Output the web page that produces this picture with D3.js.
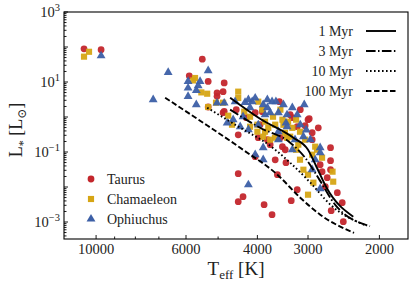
<!DOCTYPE html>
<html>
<head>
<meta charset="utf-8">
<script src="https://d3js.org/d3.v7.min.js"></script>
<style>
body {margin:0; background:#fff;}
text {font-family:"Liberation Serif", "DejaVu Serif", serif; fill:#222;}
</style>
</head>
<body>
<svg width=415 height=289></svg>
<script>
// stars: [Teff (K), L (Lsun)]
var taurus = [[10710,89],[9720,84],[5470,45],[5890,15],[5290,10.4],[4830,9.4],[5030,4.9],[5030,3.9],[5290,1.93],[4830,1.45],[4460,0.31],[4860,5.3],[4860,1.33],[4050,1.33],[3890,1.42],[3980,0.256],[3720,0.162],[3470,0.142],[3780,0.225],[3510,0.256],[3530,2.74],[3320,1.16],[3280,0.955],[3000,0.837],[3190,0.528],[3050,0.564],[2930,0.356],[2930,0.225],[2640,0.133],[2640,0.0564],[2640,0.0312],[2690,0.0185],[2720,0.0102],[2540,0.00687],[2630,0.0021],[2470,0.00356],[2455,0.00102],[3400,0.0494],[3570,0.0225],[3190,0.00837],[3300,0.00406],[3850,0.00312],[3680,0.00162],[4460,0.024],[4340,0.00528],[4460,0.0038],[4050,0.0734],[2800,0.0434],[2770,0.0274],[2980,0.894],[3940,0.603],[4260,0.955],[4510,1.62],[3135,1.62],[2830,0.49],[3415,0.116],[3615,0.06]];
var chamaeleon = [[10410,73],[10710,53],[5700,13],[5760,11.1],[5500,5.05],[5320,4.63],[5290,1.93],[4720,1.09],[4460,5.3],[4460,3.5],[3980,2.74],[5060,2.56],[4860,2.56],[4170,1.02],[4170,0.528],[4000,0.603],[3830,0.734],[3470,0.837],[3360,0.734],[4000,0.38],[3870,0.274],[3620,0.256],[3380,0.256],[3890,1.62],[3660,1.02],[3615,0.603],[3420,0.356],[3320,0.274],[3140,0.38],[2880,0.142],[2850,0.116],[3080,0.0312],[3000,0.0225],[2910,0.0133],[2610,0.0274],[2600,0.0142],[3000,0.00603],[3830,0.38],[3720,0.225],[4310,1.42],[4620,0.603],[3210,0.116],[3140,0.0603],[2770,0.0687],[3510,1.62],[3280,0.49],[3210,0.84],[3050,0.225],[2930,0.0837],[3170,0.162],[3450,0.6],[3760,0.49]];
var ophiuchus = [[9720,56],[6640,18.8],[5290,21],[5930,10.4],[5540,10.4],[5930,6.74],[5600,7.83],[5660,5.76],[5930,3.88],[5660,2.25],[5030,2.51],[4830,2.51],[4750,0.674],[7230,3.12],[4290,2.61],[4210,3.12],[4050,3.49],[3870,2.25],[3830,1.16],[4540,2.74],[4120,2.74],[3780,3.12],[4170,1.84],[3780,1.84],[4340,1.02],[4590,0.837],[4410,0.528],[4210,0.434],[3870,0.133],[4050,0.0837],[3870,0.0603],[3550,0.38],[3680,2.74],[3600,2.74],[3065,2.25],[3720,1.33],[3550,1.33],[3380,1.16],[3190,1.16],[3400,0.674],[3380,0.528],[3080,0.274],[2960,0.225],[2800,0.133],[2800,0.0955],[3550,0.225],[2930,0.0312],[2800,0.00894],[4210,0.0116],[3230,0.225],[3450,2.25],[3280,1.84],[3135,0.6],[3030,0.43],[2880,0.06],[3280,0.116],[3980,0.6]];

// isochrones
var isoAges = ["1 Myr", "3 Myr", "10 Myr", "100 Myr"];
var iso1 = [[4670,3.56],[3940,0.894],[3260,0.256],[3000,0.116],[2860,0.038],[2700,0.0095],[2320,0.00142]];
var iso3 = [[4670,1.62],[3940,0.494],[3320,0.185],[3050,0.0687],[2810,0.016],[2570,0.0031],[2110,0.00076]];
var iso10 = [[5320,1.84],[4410,0.494],[3720,0.151],[3320,0.0494],[2960,0.0133],[2640,0.0031],[2150,0.00078]];
var iso100 = [[6755,3.56],[5540,0.784],[4340,0.116],[3570,0.0225],[3135,0.00494],[2800,0.00162],[2310,0.00049]];

var regions = ["Taurus", "Chamaeleon", "Ophiuchus"];
var xTickLabels = [10000, 6000, 4000, 3000, 2000];
var xMinor = [9000, 8000, 7000, 5000];
var yTickExps = [-3, -1, 1, 3];

var colors = ["#c3262c", "#d6a514", "#3c5fa6"];
var dashes = [null, "9.6,2.4,1.5,2.4", "1.6,2.4", "5.5,2.5"];

var svg = d3.select("svg");
var L = 64, R = 408, T = 12, B = 239;

var x = d3.scaleLog().domain([12000, 1700]).range([L, R]);
var y = d3.scaleLog().domain([3.27e-4, 1000]).range([B, T]);

// ticks (inward)
var g = svg.append("g");
xTickLabels.concat(xMinor).forEach(function(v) {
  var len = xTickLabels.indexOf(v) >= 0 ? 4 : 2.5;
  g.append("line").attr("x1", x(v)).attr("x2", x(v)).attr("y1", B).attr("y2", B - len)
    .attr("stroke", "#000").attr("stroke-width", 0.9);
});
xTickLabels.forEach(function(v) {
  g.append("text").attr("x", x(v)).attr("y", 254).attr("text-anchor", "middle")
    .attr("font-size", 14.5).text(v);
});
for (var e = -4; e <= 3; e++) {
  for (var m = 1; m <= 9; m++) {
    var v = m * Math.pow(10, e);
    if (v < y.domain()[0] || v > 1000) continue;
    g.append("line").attr("x1", L).attr("x2", L + (m == 1 ? 4 : 2.5))
      .attr("y1", y(v)).attr("y2", y(v)).attr("stroke", "#000").attr("stroke-width", 0.9);
  }
}
yTickExps.forEach(function(k) {
  var t = g.append("text").attr("x", 60).attr("y", y(Math.pow(10, k)) + 5)
    .attr("text-anchor", "end").attr("font-size", 14.5);
  t.append("tspan").text("10");
  t.append("tspan").attr("dy", -6).attr("font-size", 10.5).text(k < 0 ? "\u2212" + (-k) : k);
});

// scatter
var sym = [d3.symbolCircle, d3.symbolSquare, d3.symbolTriangle];
var sizes = [36, 38, 34];
[taurus, chamaeleon, ophiuchus].forEach(function(data, i) {
  svg.append("g").selectAll("path").data(data).enter().append("path")
    .attr("d", d3.symbol().type(sym[i]).size(sizes[i]))
    .attr("transform", function(d) { return "translate(" + x(d[0]) + "," + y(d[1]) + ")"; })
    .attr("fill", colors[i]).attr("opacity", 0.95);
});

// isochrones
var line = d3.line().x(function(d) { return x(d[0]); }).y(function(d) { return y(d[1]); })
  .curve(d3.curveMonotoneX);
[iso1, iso3, iso10, iso100].forEach(function(data, i) {
  svg.append("path").datum(data).attr("d", line).attr("fill", "none")
    .attr("stroke", "#000").attr("stroke-width", 1.9)
    .attr("stroke-dasharray", dashes[i]);
});

// frame
svg.append("rect").attr("x", L).attr("y", T).attr("width", R - L).attr("height", B - T)
  .attr("fill", "none").attr("stroke", "#000").attr("stroke-width", 1.1);

// legend: isochrones
isoAges.forEach(function(a, i) {
  var yy = 31 + i * 20;
  svg.append("text").attr("x", 353).attr("y", yy + 5).attr("text-anchor", "end")
    .attr("font-size", 14).text(a);
  svg.append("line").attr("x1", 366).attr("x2", 396).attr("y1", yy).attr("y2", yy)
    .attr("stroke", "#000").attr("stroke-width", 1.9).attr("stroke-dasharray", dashes[i]);
});

// legend: regions
regions.forEach(function(r, i) {
  var yy = 179 + i * 20;
  svg.append("path").attr("d", d3.symbol().type(sym[i]).size(sizes[i]))
    .attr("transform", "translate(91," + yy + ")").attr("fill", colors[i]);
  svg.append("text").attr("x", 107).attr("y", yy + 5).attr("font-size", 14).text(r);
});

// axis labels
var xl = svg.append("text").attr("x", 236).attr("y", 275).attr("text-anchor", "middle")
  .attr("font-size", 19);
xl.append("tspan").text("T");
xl.append("tspan").attr("dy", 4).attr("font-size", 13).text("eff");
xl.append("tspan").attr("dy", -4).text(" [K]");

var yl = svg.append("text").attr("transform", "translate(22,130) rotate(-90)")
  .attr("text-anchor", "middle").attr("font-size", 18);
yl.append("tspan").text("L");
yl.append("tspan").attr("dy", 5).attr("font-size", 12).text("*");
yl.append("tspan").attr("dy", -5).text(" [L");
yl.append("tspan").attr("dy", 4).attr("font-size", 12).text("\u2299");
yl.append("tspan").attr("dy", -4).text("]");
</script>
</body>
</html>
